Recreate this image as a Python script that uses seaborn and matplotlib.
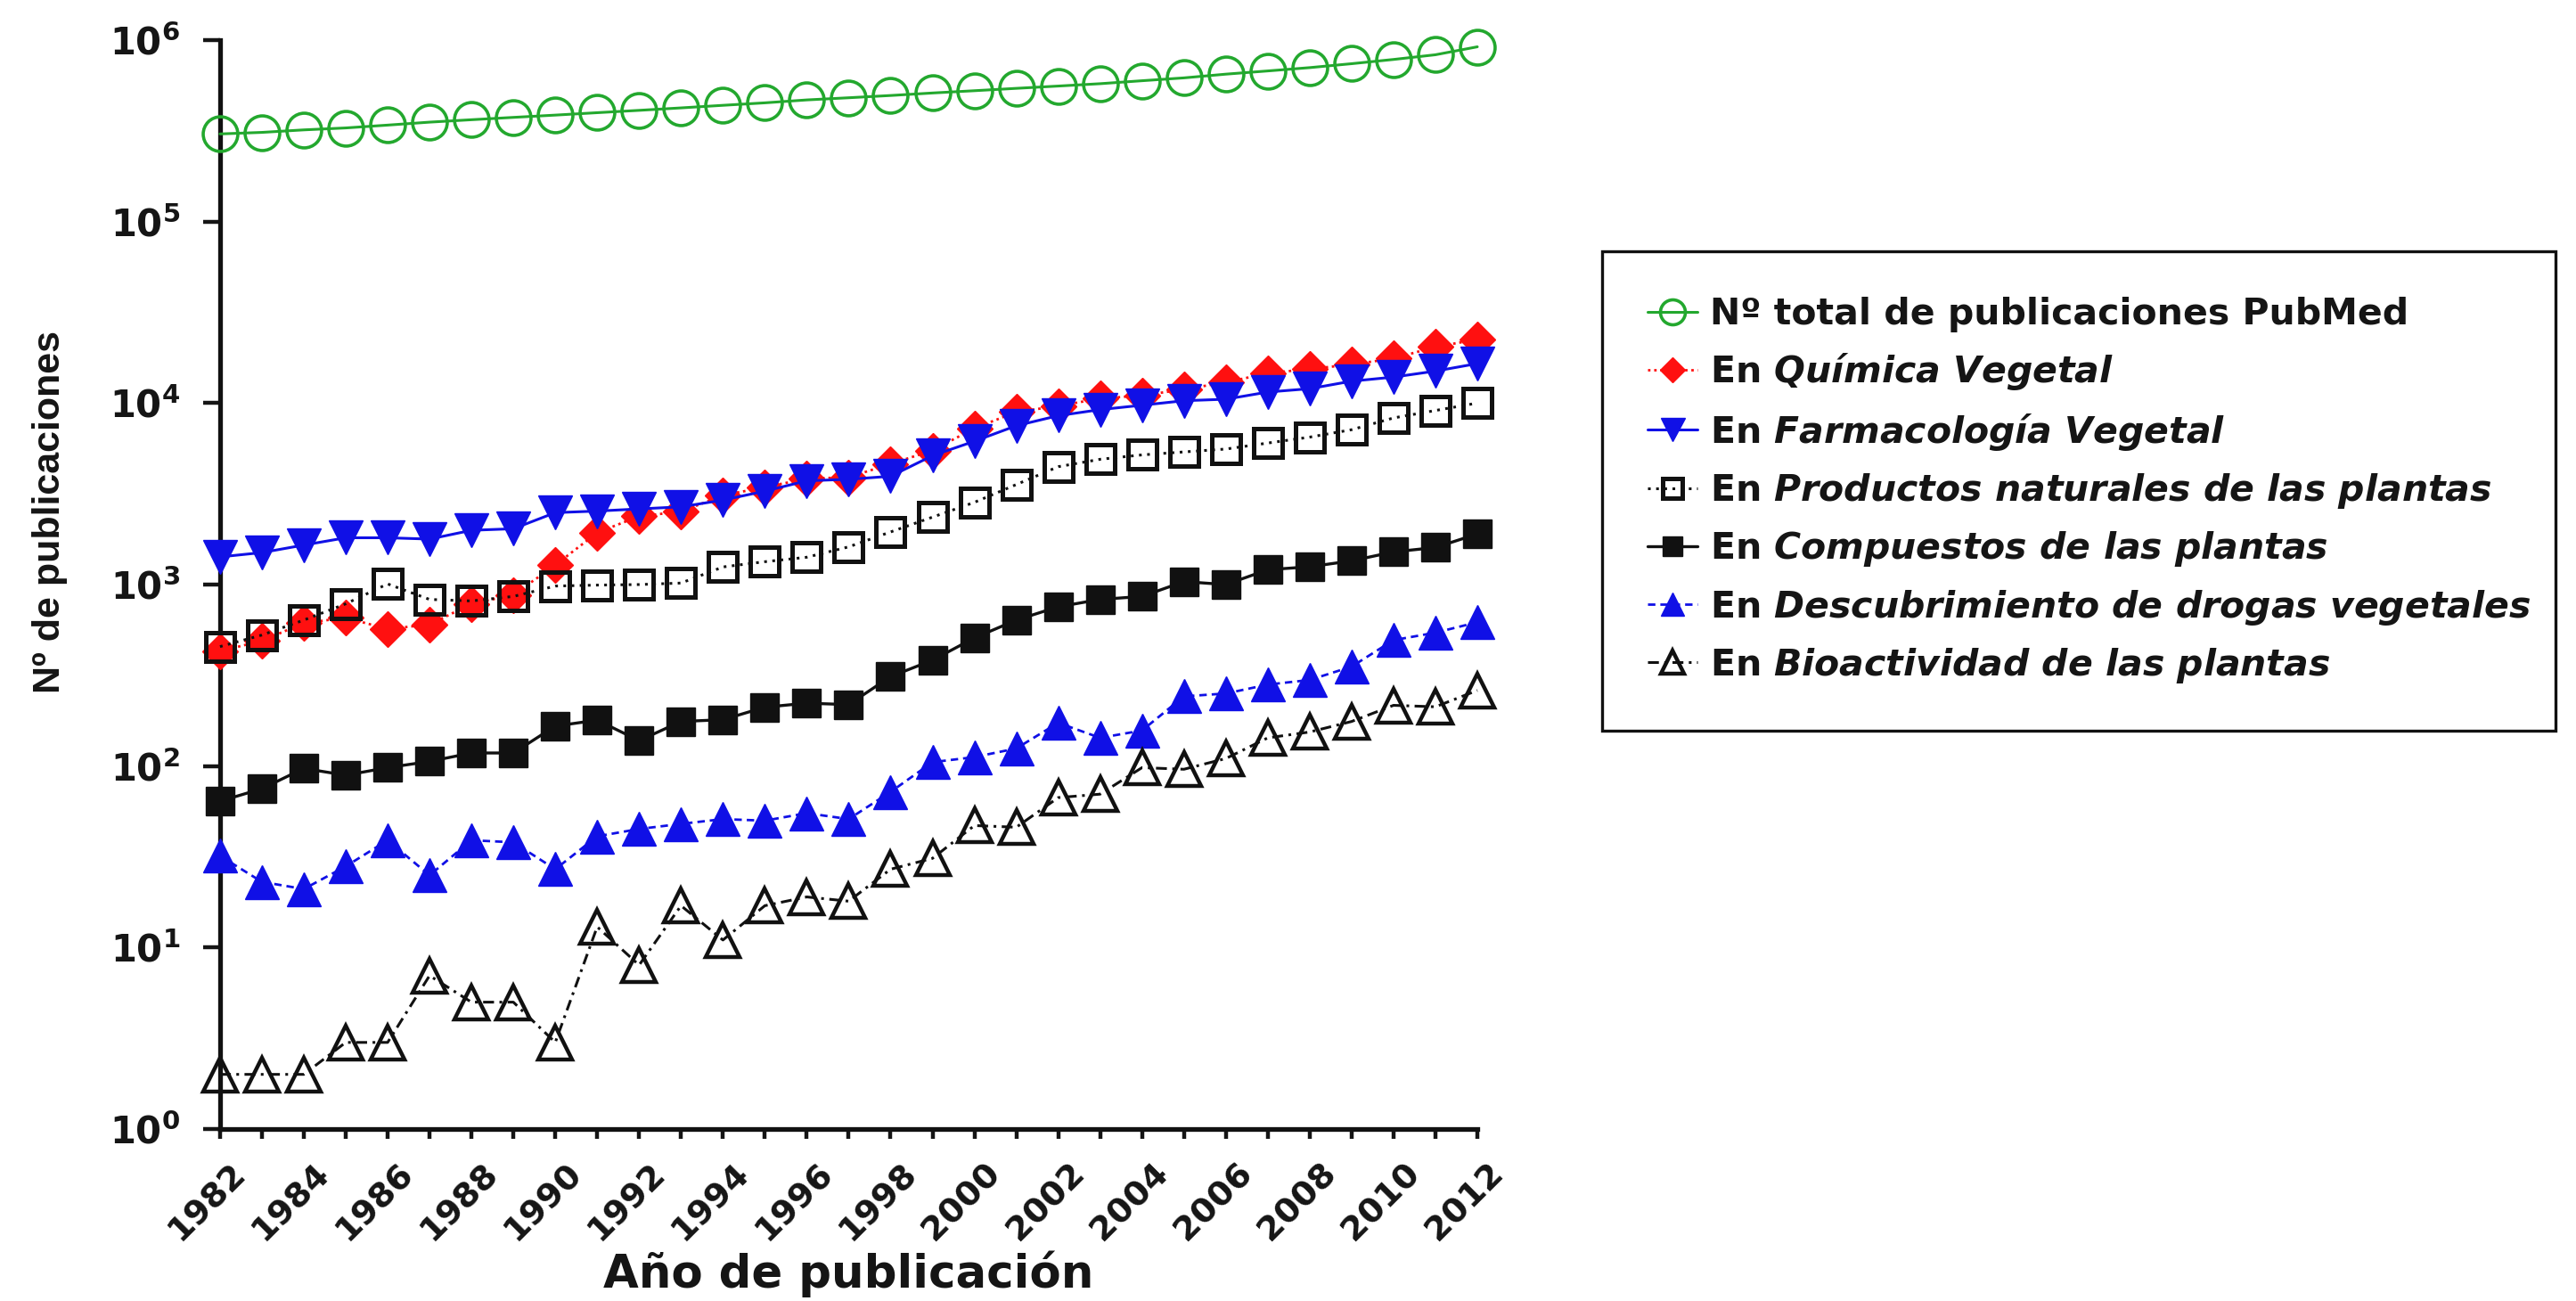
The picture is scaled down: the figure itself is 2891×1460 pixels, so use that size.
import matplotlib
matplotlib.use("Agg")
import matplotlib.pyplot as plt
import pandas as pd
import seaborn as sns
from matplotlib.ticker import FixedLocator, NullLocator, LogFormatterSciNotation
from matplotlib.transforms import ScaledTranslation

# ---- data ----------------------------------------------------------------
years = list(range(1982, 2013))

total_pubmed = [304000, 310000, 320000, 328000, 340000, 353000, 364000, 375000,
                386000, 398000, 410000, 423000, 437000, 451000, 468000, 481000,
                495000, 511000, 526000, 542000, 558000, 575000, 597000, 619000,
                649000, 676000, 705000, 741000, 782000, 830000, 918000]
quimica_vegetal = [429, 490, 613, 656, 569, 602, 783, 877, 1280, 1930, 2380,
                   2520, 3100, 3440, 3830, 3900, 4620, 5480, 7260, 8930, 9630,
                   10600, 11000, 11900, 13000, 14600, 15400, 16300, 17600,
                   20400, 22400]
farmacologia_vegetal = [1420, 1500, 1650, 1810, 1810, 1780, 1990, 2030, 2490,
                        2540, 2610, 2680, 2920, 3270, 3730, 3800, 3950, 5130,
                        6160, 7500, 8520, 9200, 9730, 10300, 10500, 11500,
                        12000, 13200, 13900, 15000, 16500]
productos_naturales = [455, 527, 637, 783, 1008, 828, 812, 860, 981, 993, 1000,
                       1019, 1250, 1336, 1414, 1613, 1949, 2352, 2837, 3557,
                       4460, 4900, 5180, 5380, 5580, 6020, 6490, 7130, 8280,
                       9100, 10000]
compuestos = [64, 75, 97, 89, 98, 106, 118, 118, 166, 179, 138, 176, 180, 211,
              222, 218, 311, 383, 508, 637, 754, 828, 860, 1038, 1000, 1207,
              1253, 1351, 1513, 1600, 1900]
descubrimiento = [32, 23, 21, 28, 39, 25, 39, 38, 27, 41, 45, 48, 51, 50, 55,
                  51, 72, 105, 112, 125, 173, 143, 157, 242, 251, 281, 298,
                  353, 494, 543, 620]
bioactividad = [2, 2, 2, 3, 3, 7, 5, 5, 3, 13, 8, 17, 11, 17, 19, 18, 27, 31,
                47, 46, 67, 70, 98, 96, 110, 143, 154, 176, 216, 212, 261]

series_labels = [
    "Nº total de publicaciones PubMed",
    r"En $\mathit{Química\ Vegetal}$",
    r"En $\mathit{Farmacología\ Vegetal}$",
    r"En $\mathit{Productos\ naturales\ de\ las\ plantas}$",
    r"En $\mathit{Compuestos\ de\ las\ plantas}$",
    r"En $\mathit{Descubrimiento\ de\ drogas\ vegetales}$",
    r"En $\mathit{Bioactividad\ de\ las\ plantas}$",
]
series_values = [total_pubmed, quimica_vegetal, farmacologia_vegetal,
                 productos_naturales, compuestos, descubrimiento, bioactividad]

year_tick_labels = [str(y) if y % 2 == 0 else "" for y in years]
y_tick_values = [1, 10, 100, 1000, 10000, 100000, 1000000]

df = pd.concat(
    [pd.DataFrame({"anio": years, "publicaciones": vals, "serie": lab})
     for lab, vals in zip(series_labels, series_values)],
    ignore_index=True,
)

# ---- line / marker styles, one per series --------------------------------
GREEN = "#23a82e"
RED = "#ff1010"
BLUE = "#1010e6"
BLACK = "#111111"
styles = [
    dict(color=GREEN, linestyle="-", linewidth=2.2, marker="o", markersize=28,
         markerfacecolor="none", markeredgecolor=GREEN, markeredgewidth=2.6),
    dict(color=RED, linestyle=(0, (1, 1.5)), linewidth=2.0, marker="D",
         markersize=20, markerfacecolor=RED, markeredgecolor=RED,
         markeredgewidth=1.0),
    dict(color=BLUE, linestyle="-", linewidth=2.2, marker="v", markersize=27,
         markerfacecolor=BLUE, markeredgecolor=BLUE, markeredgewidth=1.0),
    dict(color=BLACK, linestyle=(0, (1, 2)), linewidth=2.2, marker="s",
         markersize=23, markerfacecolor="none", markeredgecolor=BLACK,
         markeredgewidth=3.6),
    dict(color=BLACK, linestyle="-", linewidth=2.4, marker="s", markersize=23,
         markerfacecolor=BLACK, markeredgecolor=BLACK, markeredgewidth=1.0),
    dict(color=BLUE, linestyle=(0, (3, 2)), linewidth=2.0, marker="^",
         markersize=27, markerfacecolor=BLUE, markeredgecolor=BLUE,
         markeredgewidth=1.0),
    dict(color=BLACK, linestyle=(0, (4, 2, 1, 2)), linewidth=2.2, marker="^",
         markersize=27, markerfacecolor="none", markeredgecolor=BLACK,
         markeredgewidth=3.2),
]

# ---- figure ----------------------------------------------------------------
sns.set_style("ticks")
plt.rcParams["font.family"] = ["DejaVu Sans"]
plt.rcParams["mathtext.fontset"] = "custom"
plt.rcParams["mathtext.rm"] = "DejaVu Sans:bold"
plt.rcParams["mathtext.it"] = "DejaVu Sans:italic:bold"
plt.rcParams["mathtext.bf"] = "DejaVu Sans:bold"
plt.rcParams["text.color"] = "#151515"
plt.rcParams["axes.labelcolor"] = "#151515"
plt.rcParams["xtick.color"] = "#151515"
plt.rcParams["ytick.color"] = "#151515"

fig = plt.figure(figsize=(28.91, 14.60), dpi=100)
ax = fig.add_axes([0.0854, 0.1322, 0.4881, 0.8370])

for z, (lab, st) in enumerate(zip(series_labels, styles)):
    sub = df[df["serie"] == lab]
    sns.lineplot(data=sub, x="anio", y="publicaciones", ax=ax, label=lab,
                 estimator=None, errorbar=None, clip_on=False, zorder=3 + z,
                 **st)

ax.set_yscale("log")
ax.set_xlim(years[0], years[-1])
ax.set_ylim(y_tick_values[0], y_tick_values[-1])
ax.yaxis.set_major_locator(FixedLocator(y_tick_values))
ax.yaxis.set_minor_locator(NullLocator())
ax.yaxis.set_major_formatter(LogFormatterSciNotation())
ax.set_xticks(years)
ax.set_xticklabels(year_tick_labels, rotation=45, ha="right", va="center",
                   rotation_mode="anchor")

sns.despine(ax=ax)
for side in ("left", "bottom"):
    ax.spines[side].set_linewidth(3.8)
    ax.spines[side].set_color("#111111")

ax.tick_params(axis="y", which="major", direction="out", length=14, width=3.2,
               labelsize=30, pad=18)
ax.tick_params(axis="x", which="major", direction="out", length=8, width=3.2,
               labelsize=27.5, pad=24)
for lbl in ax.get_yticklabels():
    lbl.set_fontweight("bold")
shift = ScaledTranslation(24 / 100, 0, fig.dpi_scale_trans)
for lbl in ax.get_xticklabels():
    lbl.set_fontweight("bold")
    lbl.set_transform(lbl.get_transform() + shift)

ax.set_xlabel("Año de publicación", fontsize=37, fontweight="bold")
ax.xaxis.set_label_coords(0.5, -0.112)
ax.set_ylabel("Nº de publicaciones", fontsize=31, fontweight="bold",
              family="Liberation Sans")
ax.yaxis.set_label_coords(-0.121, 0.567)

leg = ax.legend(loc="upper left", bbox_to_anchor=(0.622, 0.40, 0.370, 0.407),
                bbox_transform=fig.transFigure, mode="expand",
                borderaxespad=0, frameon=True, fancybox=False,
                edgecolor="#111111", framealpha=1,
                prop={"weight": "bold", "size": 29.5}, handlelength=1.35,
                handletextpad=0.35, labelspacing=0.52, borderpad=1.25,
                markerscale=0.72)
leg.get_frame().set_linewidth(2.4)

fig.savefig("out.png", dpi=100, facecolor="white")
